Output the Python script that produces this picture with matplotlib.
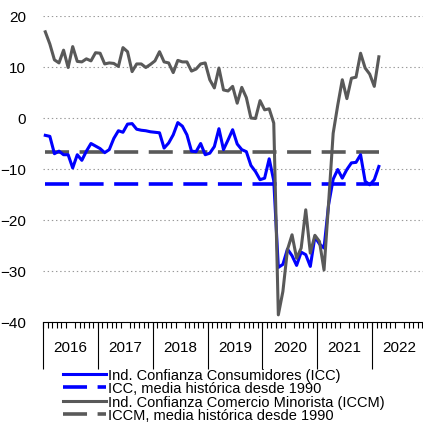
import numpy as np
import matplotlib
matplotlib.use("Agg")
import matplotlib.pyplot as plt
from matplotlib.ticker import FixedLocator, NullFormatter

plt.rcParams["font.family"] = ["Liberation Sans", "DejaVu Sans"]
plt.rcParams["lines.scale_dashes"] = False

# monthly data, Jan 2016 - Feb 2022
years = ["2016", "2017", "2018", "2019", "2020", "2021", "2022"]

icc = [
    -3.4, -3.6, -7.0, -6.5, -7.2, -7.2, -9.8, -7.2, -8.3, -6.5, -5.0, -5.5,   # 2016
    -6.0, -6.8, -6.2, -4.0, -2.5, -2.8, -1.2, -1.1, -2.2, -2.4, -2.5, -2.7,   # 2017
    -2.8, -2.9, -5.9, -4.9, -3.3, -0.9, -1.6, -3.3, -6.5, -6.6, -5.0, -7.2,   # 2018
    -6.9, -5.6, -2.1, -6.2, -4.3, -2.3, -5.1, -6.2, -6.6, -9.3, -10.5, -12.1, # 2019
    -11.8, -8.0, -12.3, -29.3, -28.7, -25.7, -27.0, -28.9, -26.3, -26.8, -29.1, -23.3,  # 2020
    -24.7, -25.5, -17.0, -12.0, -10.1, -11.8, -10.1, -8.8, -8.7, -7.2, -12.4, -13.1,   # 2021
    -12.1, -9.5,                                                               # 2022
]

iccm = [
    16.9, 14.5, 11.4, 10.8, 13.3, 9.9, 14.0, 11.1, 11.0, 11.6, 11.2, 12.8,
    12.7, 10.6, 10.8, 10.7, 10.1, 13.8, 13.0, 9.1, 10.6, 10.6, 9.9, 10.5,
    11.2, 13.0, 11.0, 10.8, 8.9, 11.3, 11.0, 11.0, 9.2, 9.6, 10.6, 10.8,
    7.5, 5.9, 9.8, 5.5, 5.3, 6.2, 2.9, 6.0, 4.0, 0.0, -0.1, 3.4,
    1.6, 1.8, -1.0, -38.6, -34.0, -25.8, -22.9, -27.5, -25.5, -18.0, -26.5, -23.0,
    -24.2, -29.8, -16.7, -3.0, 2.5, 7.5, 3.8, 7.8, 8.0, 12.7, 9.8, 8.6,
    6.2, 12.0,
]

icc_mean = -13.0
iccm_mean = -6.6

BLUE = "#0000ff"
GREY = "#595959"

fig = plt.figure(figsize=(4.23, 4.27), dpi=100)
ax = fig.add_axes([43 / 423, 1 - 323 / 427, 380 / 423, 306 / 427])

x = np.arange(len(icc)) + 0.5

ax.plot(x, icc, color=BLUE, lw=2.2, label="Ind. Confianza Consumidores (ICC)", zorder=4)
ax.plot([x[0], x[-1]], [icc_mean, icc_mean], color=BLUE, lw=2.6, dashes=(17.3, 7.6),
        label="ICC, media histórica desde 1990", zorder=3)
ax.plot(x, iccm, color=GREY, lw=2.2, label="Ind. Confianza Comercio Minorista (ICCM)", zorder=5)
ax.plot([x[0], x[-1]], [iccm_mean, iccm_mean], color=GREY, lw=2.6, dashes=(17.3, 7.6),
        label="ICCM, media histórica desde 1990", zorder=3)

ax.set_ylim(-40, 20)
ax.set_yticks(range(-40, 21, 10))
ax.set_xlim(0, 380 / (329 / 72))
ax.grid(axis="y", color="#999999", linestyle=(0, (1, 2)), lw=0.8)
ax.set_axisbelow(True)

for s in ["top", "right", "left"]:
    ax.spines[s].set_visible(False)
ax.spines["bottom"].set_color("black")
ax.spines["bottom"].set_linewidth(0.8)

# month ticks
ax.xaxis.set_minor_locator(FixedLocator(np.arange(0, 12 * len(years) + 1)))
ax.tick_params(axis="x", which="minor", length=4, width=0.8, color="black")
# year labels in the middle of each year
ax.set_xticks(np.arange(len(years)) * 12 + 6)
ax.set_xticklabels(years)
ax.tick_params(axis="x", which="major", length=0, pad=13, labelsize=11)
ax.tick_params(axis="y", length=0, pad=12, labelsize=11)

# year separators
sec = ax.secondary_xaxis("bottom")
sec.set_xticks(np.arange(len(years) + 1) * 12)
sec.xaxis.set_major_formatter(NullFormatter())
sec.tick_params(axis="x", length=34, width=0.8, color="black")
sec.spines["bottom"].set_visible(False)

fig.legend(loc="upper left", bbox_to_anchor=(63 / 423, 1 - 369 / 427), frameon=False,
           fontsize=10.5, handlelength=2.95, handletextpad=0.15, labelspacing=-0.04,
           borderpad=0, borderaxespad=0)

fig.savefig("out.png", dpi=100)
